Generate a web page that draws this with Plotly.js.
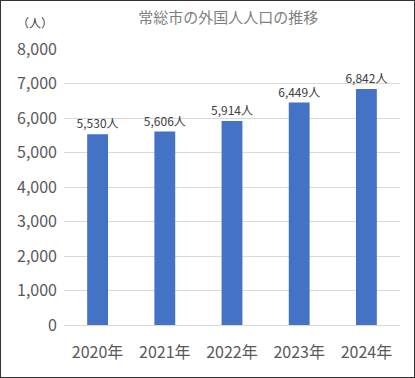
<!DOCTYPE html>
<html><head><meta charset="utf-8">
<script src="https://cdn.plot.ly/plotly-3.0.1.min.js"></script>
<style>
html,body{margin:0;padding:0;background:#fff;}
#wrap{width:415px;height:378px;box-sizing:border-box;border:1px solid #333;overflow:hidden;}
</style></head>
<body><div id="wrap"><div id="chart"></div></div>
<script>
const categories = ["2020年","2021年","2022年","2023年","2024年"];
const population = [5530, 5606, 5914, 6449, 6842];
const labels = ["5,530人","5,606人","5,914人","6,449人","6,842人"];
const yTicks = [0,1000,2000,3000,4000,5000,6000,7000,8000];
const yTickText = ["0","1,000","2,000","3,000","4,000","5,000","6,000","7,000","8,000"];

const font = '"Noto Sans CJK JP", "Noto Sans", sans-serif';
Plotly.newPlot('chart', [{
  type:'bar', x:categories, y:population,
  text:labels, textposition:'outside', cliponaxis:false, constraintext:'none',
  textfont:{family:font, size:12, color:'#404040'},
  marker:{color:'#4472C4'}, width:0.31, hoverinfo:'none'
}], {
  width:413, height:376,
  margin:{l:63, r:14, t:48, b:52},
  paper_bgcolor:'#fff', plot_bgcolor:'#fff',
  showlegend:false,
  title:{text:'常総市の外国人人口の推移', font:{family:font, size:15, color:'#7f7f7f'}, x:0.55, xanchor:'center', y:0.955, yanchor:'middle'},
  xaxis:{tickfont:{family:font, size:16, color:'#595959'}, showline:false, ticks:'', ticklabelstandoff:16, fixedrange:true},
  yaxis:{range:[0,8000], tickvals:yTicks, ticktext:yTickText, tickfont:{family:font, size:16, color:'#595959'},
    gridcolor:'#d9d9d9', gridwidth:1, zeroline:true, zerolinecolor:'#d9d9d9', ticks:'', ticklen:0, ticklabelstandoff:6, fixedrange:true},
  annotations:[{text:'（人）', xref:'paper', yref:'paper', x:-0.085, y:1.095, xanchor:'center', yanchor:'middle', showarrow:false,
    font:{family:font, size:12, color:'#404040'}}]
}, {staticPlot:true});
</script></body></html>
